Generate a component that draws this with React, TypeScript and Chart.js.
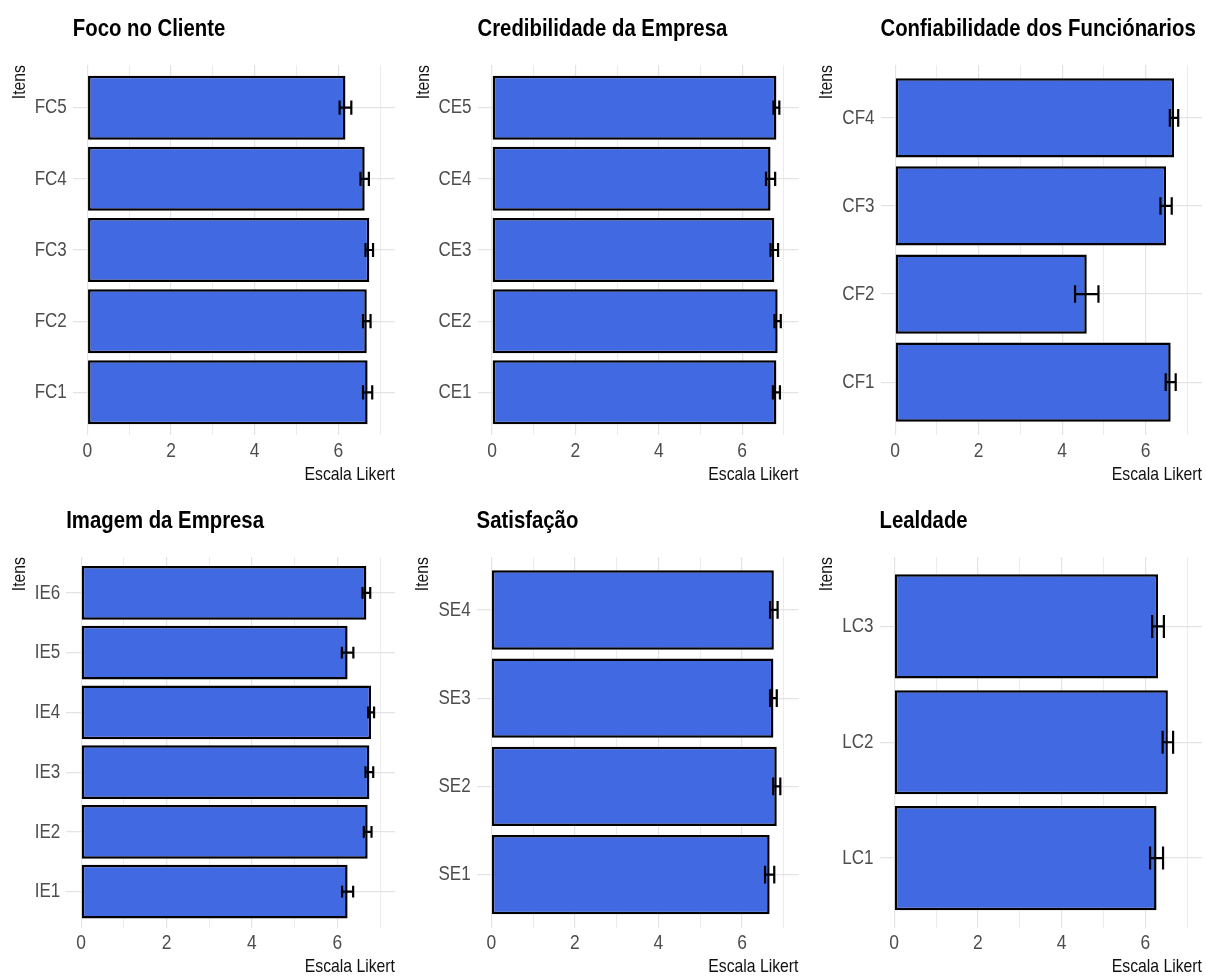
import React, { useEffect, useRef } from 'react';
import { Chart, registerables } from 'chart.js';

Chart.register(...registerables);

const FONT = "'Liberation Sans', Arial, sans-serif";
const CONDENSE = 0.83; // narrow (condensed) lettering as in the reference

// ---------- DATA ----------
const fcItems = ['FC1', 'FC2', 'FC3', 'FC4', 'FC5'];
const fcMeans = [6.70, 6.68, 6.74, 6.63, 6.17];
const fcErrors = [0.11, 0.09, 0.09, 0.10, 0.14];

const ceItems = ['CE1', 'CE2', 'CE3', 'CE4', 'CE5'];
const ceMeans = [6.82, 6.85, 6.77, 6.68, 6.82];
const ceErrors = [0.085, 0.075, 0.09, 0.11, 0.07];

const cfItems = ['CF1', 'CF2', 'CF3', 'CF4'];
const cfMeans = [6.60, 4.59, 6.49, 6.68];
const cfErrors = [0.12, 0.28, 0.135, 0.10];

const ieItems = ['IE1', 'IE2', 'IE3', 'IE4', 'IE5', 'IE6'];
const ieMeans = [6.24, 6.71, 6.75, 6.79, 6.24, 6.68];
const ieErrors = [0.13, 0.09, 0.09, 0.07, 0.135, 0.09];

const seItems = ['SE1', 'SE2', 'SE3', 'SE4'];
const seMeans = [6.66, 6.83, 6.75, 6.76];
const seErrors = [0.11, 0.085, 0.08, 0.09];

const lcItems = ['LC1', 'LC2', 'LC3'];
const lcMeans = [6.265, 6.535, 6.30];
const lcErrors = [0.155, 0.125, 0.14];

const panelTitles = [
  'Foco no Cliente',
  'Credibilidade da Empresa',
  'Confiabilidade dos Funciónarios',
  'Imagem da Empresa',
  'Satisfação',
  'Lealdade',
];

const xTickValues = [0, 1, 2, 3, 4, 5, 6, 7];
const xTickLabels = ['0', '', '2', '', '4', '', '6', ''];
const xAxisTitle = 'Escala Likert';
const yAxisTitle = 'Itens';

// ---------- LAYOUT (page pixels) ----------
const CELL_W = 402;
const CELL_H = 488;
const X_MIN = -0.35;
const X_MAX = 7.35;
const BAR_FRACTION = 0.9;
const ERR_FRACTION = 0.2;

type Layout = {
  cellX: number; cellY: number;
  left: number; right: number; top: number; bottom: number;
  titlePadTop: number; yTitleMid: number; xTitlePad: number; xTickPad: number;
};

const layouts: Layout[] = [
  { cellX: 0, cellY: 0, left: 72.8, right: 394.8, top: 65, bottom: 435, titlePadTop: 14.6, yTitleMid: 19.8, xTitlePad: 1.8, xTickPad: 3.5 },
  { cellX: 402, cellY: 0, left: 477.5, right: 798.5, top: 65, bottom: 435, titlePadTop: 14.6, yTitleMid: 21.7, xTitlePad: 1.8, xTickPad: 3.5 },
  { cellX: 804, cellY: 0, left: 880.5, right: 1202, top: 65, bottom: 435, titlePadTop: 14.6, yTitleMid: 23, xTitlePad: 1.8, xTickPad: 3.5 },
  { cellX: 0, cellY: 488, left: 66.2, right: 395, top: 557, bottom: 927.5, titlePadTop: 18.3, yTitleMid: 19.7, xTitlePad: -1.7, xTickPad: 3 },
  { cellX: 402, cellY: 488, left: 476.6, right: 798.5, top: 557, bottom: 927.5, titlePadTop: 18.3, yTitleMid: 21.2, xTitlePad: -1.7, xTickPad: 3 },
  { cellX: 804, cellY: 488, left: 879.5, right: 1202, top: 557, bottom: 927.5, titlePadTop: 18.3, yTitleMid: 23, xTitlePad: -1.7, xTickPad: 3 },
];

// Draw all canvas text horizontally condensed (along the text direction).
function condenseText(ctx: CanvasRenderingContext2D, k: number) {
  const anyCtx = ctx as any;
  if (anyCtx.__condensed) return;
  anyCtx.__condensed = true;
  const origFill = ctx.fillText.bind(ctx);
  const origStroke = ctx.strokeText.bind(ctx);
  const origMeasure = ctx.measureText.bind(ctx);
  anyCtx.fillText = (text: string, x: number, y: number, maxWidth?: number) => {
    ctx.save();
    ctx.translate(x, y);
    ctx.scale(k, 1);
    if (maxWidth !== undefined && maxWidth !== null) origFill(text, 0, 0, maxWidth / k);
    else origFill(text, 0, 0);
    ctx.restore();
  };
  anyCtx.strokeText = (text: string, x: number, y: number, maxWidth?: number) => {
    ctx.save();
    ctx.translate(x, y);
    ctx.scale(k, 1);
    if (maxWidth !== undefined && maxWidth !== null) origStroke(text, 0, 0, maxWidth / k);
    else origStroke(text, 0, 0);
    ctx.restore();
  };
  anyCtx.measureText = (text: string) => {
    const m = origMeasure(text);
    return {
      width: m.width * k,
      actualBoundingBoxLeft: m.actualBoundingBoxLeft * k,
      actualBoundingBoxRight: m.actualBoundingBoxRight * k,
      actualBoundingBoxAscent: m.actualBoundingBoxAscent,
      actualBoundingBoxDescent: m.actualBoundingBoxDescent,
      fontBoundingBoxAscent: m.fontBoundingBoxAscent,
      fontBoundingBoxDescent: m.fontBoundingBoxDescent,
    };
  };
}

type PanelProps = {
  title: string;
  items: string[];
  means: number[];
  errors: number[];
  layout: Layout;
};

function Panel({ title, items, means, errors, layout }: PanelProps) {
  const ref = useRef<HTMLCanvasElement | null>(null);

  useEffect(() => {
    const canvas = ref.current;
    if (!canvas) return;
    const ctx2d = canvas.getContext('2d');
    if (ctx2d) condenseText(ctx2d, CONDENSE);

    const L = layout;
    const titleFontSize = 24.5;
    const titleLine = titleFontSize * 1.2;
    const titleBox = L.top - L.cellY;
    const titlePadBottom = titleBox - L.titlePadTop - titleLine;
    const axisTitleSize = 19;
    const axisTitleLine = axisTitleSize * 1.2;

    const errorBars = {
      id: 'errorBars',
      afterDatasetsDraw(chart: any) {
        const { ctx } = chart;
        const xs = chart.scales.x;
        const ys = chart.scales.y;
        const step = Math.abs(ys.getPixelForValue(1) - ys.getPixelForValue(0));
        const half = (step * ERR_FRACTION) / 2;
        ctx.save();
        ctx.strokeStyle = '#000000';
        ctx.lineWidth = 2.2;
        means.forEach((m, i) => {
          const x1 = xs.getPixelForValue(m - errors[i]);
          const x2 = xs.getPixelForValue(m + errors[i]);
          const yc = ys.getPixelForValue(i);
          ctx.beginPath();
          ctx.moveTo(x1, yc);
          ctx.lineTo(x2, yc);
          ctx.moveTo(x1, yc - half);
          ctx.lineTo(x1, yc + half);
          ctx.moveTo(x2, yc - half);
          ctx.lineTo(x2, yc + half);
          ctx.stroke();
        });
        ctx.restore();
      },
    };

    const chart = new Chart(canvas, {
      type: 'bar',
      data: {
        datasets: [
          {
            data: means.map((m, i) => ({ x: m, y: i })),
            backgroundColor: '#4169E1',
            borderColor: '#000000',
            borderWidth: 2.5,
            borderSkipped: false,
            barPercentage: BAR_FRACTION,
            categoryPercentage: 1,
          } as any,
        ],
      },
      options: {
        indexAxis: 'y',
        animation: false,
        responsive: false,
        maintainAspectRatio: false,
        events: [],
        layout: { padding: { left: 0, top: 0, bottom: 0, right: L.cellX + CELL_W - L.right } },
        plugins: {
          legend: { display: false },
          tooltip: { enabled: false },
          title: {
            display: true,
            text: title,
            align: 'start',
            fullSize: false,
            color: '#000000',
            font: { family: FONT, size: titleFontSize, weight: 'bold' },
            padding: { top: L.titlePadTop, bottom: titlePadBottom },
          },
        },
        scales: {
          x: {
            type: 'linear',
            min: X_MIN,
            max: X_MAX,
            bounds: 'data',
            beginAtZero: false,
            afterBuildTicks: (scale: any) => {
              scale.ticks = xTickValues.map((v) => ({ value: v }));
            },
            afterFit: (scale: any) => {
              scale.height = L.cellY + CELL_H - L.bottom;
            },
            ticks: {
              autoSkip: false,
              maxRotation: 0,
              padding: L.xTickPad,
              color: '#4d4d4d',
              font: { family: FONT, size: 21 },
              callback: (_v: any, idx: number) => xTickLabels[idx],
            },
            grid: {
              drawTicks: false,
              color: (c: any) => (c.tick && c.tick.value % 2 === 0 ? '#e4e4e4' : '#ececec'),
              lineWidth: (c: any) => (c.tick && c.tick.value % 2 === 0 ? 1.2 : 1),
            },
            border: { display: false },
            title: {
              display: true,
              text: xAxisTitle,
              align: 'end',
              color: '#111111',
              font: { family: FONT, size: axisTitleSize },
              padding: { top: 0, bottom: L.xTitlePad },
            },
          },
          y: {
            type: 'linear',
            min: -0.6,
            max: items.length - 0.4,
            bounds: 'data',
            offset: false,
            afterBuildTicks: (scale: any) => {
              scale.ticks = items.map((_, i) => ({ value: i }));
            },
            afterFit: (scale: any) => {
              scale.width = L.left - L.cellX;
            },
            ticks: {
              autoSkip: false,
              padding: 6,
              color: '#4d4d4d',
              font: { family: FONT, size: 20.5 },
              callback: (v: any) => items[Math.round(Number(v))] ?? '',
            },
            grid: {
              offset: false,
              drawTicks: false,
              color: '#e4e4e4',
              lineWidth: 1.2,
            },
            border: { display: false },
            title: {
              display: true,
              text: yAxisTitle,
              align: 'end',
              color: '#111111',
              font: { family: FONT, size: axisTitleSize },
              padding: { top: L.yTitleMid - axisTitleLine / 2, bottom: 0 },
            },
          },
        },
      } as any,
      plugins: [errorBars],
    });

    return () => chart.destroy();
  }, [title, items, means, errors, layout]);

  return (
    <canvas
      ref={ref}
      width={CELL_W}
      height={CELL_H}
      style={{ position: 'absolute', left: layout.cellX, top: layout.cellY, width: CELL_W, height: CELL_H, display: 'block' }}
    />
  );
}

const panelItems = [fcItems, ceItems, cfItems, ieItems, seItems, lcItems];
const panelMeans = [fcMeans, ceMeans, cfMeans, ieMeans, seMeans, lcMeans];
const panelErrors = [fcErrors, ceErrors, cfErrors, ieErrors, seErrors, lcErrors];

export default function App() {
  return (
    <div style={{ position: 'absolute', left: 0, top: 0, width: 1206, height: 976, background: '#ffffff', overflow: 'hidden' }}>
      {panelTitles.map((t, i) => (
        <Panel key={t} title={t} items={panelItems[i]} means={panelMeans[i]} errors={panelErrors[i]} layout={layouts[i]} />
      ))}
    </div>
  );
}
